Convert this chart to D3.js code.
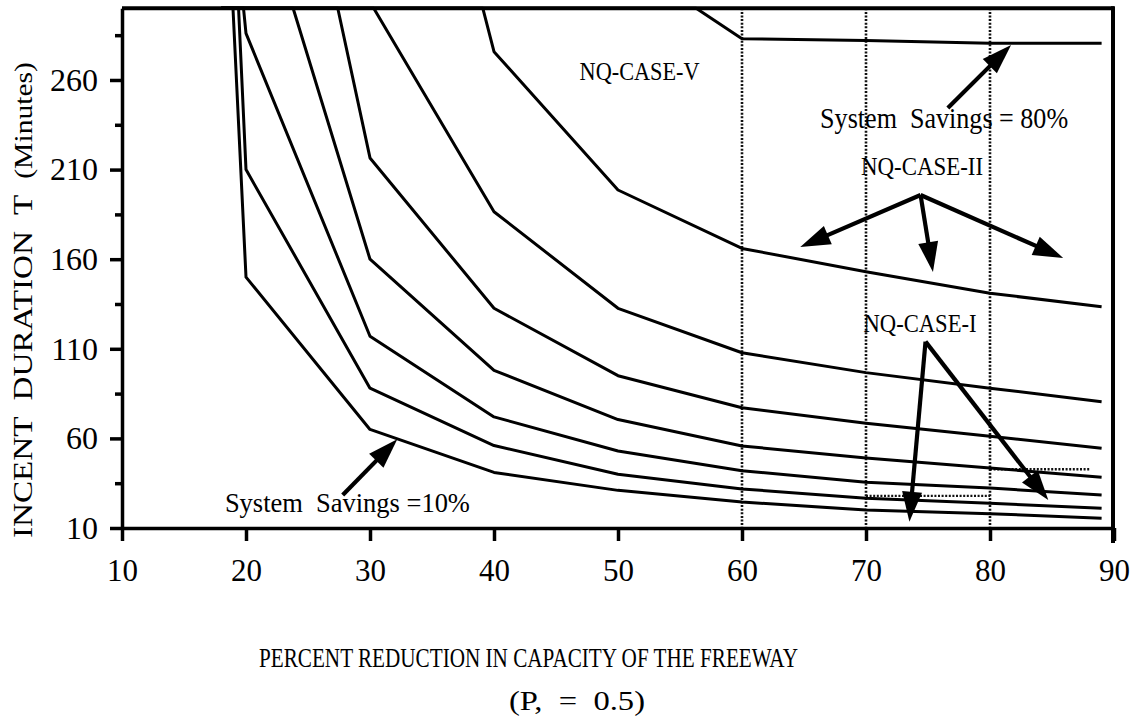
<!DOCTYPE html>
<html>
<head>
<meta charset="utf-8">
<script src="https://cdn.jsdelivr.net/npm/d3@7"></script>
<style>
  html, body { margin: 0; padding: 0; background: #fff; }
  svg { display: block; }
  text { font-family: "Liberation Serif", "Times New Roman", serif; fill: #000; white-space: pre; }
</style>
</head>
<body>
<svg id="chart" width="1133" height="716"></svg>
<script>
// ---------------- data ----------------
const xTicks = [10, 20, 30, 40, 50, 60, 70, 80, 90];
const yTicks = [10, 60, 110, 160, 210, 260];
const yMinorTicks = [35, 85, 135, 185, 235, 285];
const refLines = [60, 70, 80];

// System savings curves: [percent reduction, incident duration (min)]
const seriesNames = ["10%", "20%", "30%", "40%", "50%", "60%", "70%", "80%"];
const save10 = [[18, 300], [18.95, 300], [20, 150], [30, 65], [40, 41], [50, 31], [60, 24.5], [70, 20], [80, 18], [89, 15.4]];
const save20 = [[18, 300], [19.4, 300], [20, 210], [30, 88], [40, 56], [50, 40], [60, 31.8], [70, 26.6], [80, 23.8], [89, 21]];
const save30 = [[18, 300], [19.8, 300], [20, 286], [30, 117], [40, 72], [50, 53], [60, 42], [70, 35.5], [80, 32.3], [89, 28.4]];
const save40 = [[18, 300], [23.8, 300], [30, 160], [40, 98], [50, 70.5], [60, 55.8], [70, 49], [80, 43.5], [89, 38.3]];
const save50 = [[18, 300], [27.4, 300], [30, 216.5], [40, 132.6], [50, 95], [60, 77.1], [70, 68.4], [80, 61.2], [89, 54.5]];
const save60 = [[18, 300], [30.3, 300], [40, 186.5], [50, 132.6], [60, 107.8], [70, 96.7], [80, 88], [89, 80.5]];
const save70 = [[18, 300], [39.1, 300], [40, 275.8], [50, 198.6], [60, 166], [70, 153], [80, 141], [89, 133.5]];
const save80 = [[18, 300], [56.3, 300], [60, 283], [70, 282], [80, 280.5], [89, 280.5]];
const allSeries = [save10, save20, save30, save40, save50, save60, save70, save80];

// dotted horizontal marks: [x0, x1, y]
const dottedMarks = [[80, 88, 42.8], [70, 80, 27.9]];

// annotation labels: [text, x, y]
const labels = [
  ["System  Savings =10%", 18.3, 19.0],
  ["System  Savings = 80%", 66.3, 233.2],
  ["NQ-CASE-II", 69.6, 207],
  ["NQ-CASE-I", 69.8, 119.5],
  ["NQ-CASE-V", 46.9, 260]
];
// arrows: [x0, y0, x1(tip), y1(tip)]
const arrows = [
  [27.8, 28.4, 32.2, 59.5],
  [76.6, 244.4, 81.7, 279.5],
  [74.4, 195.8, 64.7, 166.8],
  [74.4, 195.8, 75.4, 152.9],
  [74.4, 195.8, 85.9, 160.7],
  [74.8, 114, 73.5, 13.5],
  [74.8, 114, 84.7, 25.6]
];

const xTitle = "PERCENT REDUCTION IN CAPACITY OF THE FREEWAY";
const xSubTitle = "(P,  =  0.5)";
const yTitleMain = "INCENT  DURATION  T  ";
const yTitleUnit = "(Minutes)";

// ---------------- drawing ----------------
const FONT = '"Liberation Serif", "Times New Roman", serif';
const svg = d3.select("#chart");
const x = d3.scaleLinear().domain([10, 90]).range([122, 1114]);
const y = d3.scaleLinear().domain([10, 300]).range([528, 8.3]);

// reference dotted verticals
svg.append("g").selectAll("line").data(refLines).join("line")
  .attr("x1", d => x(d)).attr("x2", d => x(d))
  .attr("y1", y(300)).attr("y2", y(10))
  .attr("stroke", "#111").attr("stroke-width", 2.6)
  .attr("stroke-dasharray", "2,1.6");

svg.append("g").selectAll("line").data(dottedMarks).join("line")
  .attr("x1", d => x(d[0])).attr("x2", d => x(d[1]))
  .attr("y1", d => y(d[2])).attr("y2", d => y(d[2]))
  .attr("stroke", "#111").attr("stroke-width", 2.4)
  .attr("stroke-dasharray", "2,1.6");

// curves
const line = d3.line().x(d => x(d[0])).y(d => y(d[1]));
svg.append("g").selectAll("path").data(allSeries).join("path")
  .attr("d", line)
  .attr("fill", "none").attr("stroke", "#000")
  .attr("stroke-width", 3).attr("stroke-linejoin", "round");

// frame (top + right)
svg.append("line").attr("x1", x(10)).attr("x2", x(90))
  .attr("y1", y(300)).attr("y2", y(300))
  .attr("stroke", "#000").attr("stroke-width", 4);
svg.append("line").attr("x1", x(90) - 1).attr("x2", x(90) - 1)
  .attr("y1", y(300) - 2).attr("y2", y(10) + 15)
  .attr("stroke", "#000").attr("stroke-width", 4);

// axes
const xAxis = d3.axisBottom(x).tickValues(xTicks).tickSize(13).tickSizeOuter(0).tickPadding(18);
const gx = svg.append("g").attr("transform", `translate(0,${y(10)})`).call(xAxis);
gx.attr("font-family", FONT);
gx.select(".domain").attr("stroke-width", 3.5);
gx.selectAll(".tick line").attr("stroke-width", 3.5);
gx.selectAll(".tick text").attr("font-size", 31).attr("font-family", FONT);

const yAxis = d3.axisLeft(y).tickValues(yTicks).tickSize(12).tickSizeOuter(0).tickPadding(12);
const gy = svg.append("g").attr("transform", `translate(${x(10)},0)`).call(yAxis);
gy.attr("font-family", FONT);
gy.select(".domain").attr("stroke-width", 3.5);
gy.selectAll(".tick line").attr("stroke-width", 3.5);
gy.selectAll(".tick text").attr("font-size", 32).attr("font-family", FONT);

const yMinor = d3.axisLeft(y).tickValues(yMinorTicks).tickSize(7).tickSizeOuter(0).tickFormat("");
const gym = svg.append("g").attr("transform", `translate(${x(10)},0)`).call(yMinor);
gym.select(".domain").remove();
gym.selectAll(".tick line").attr("stroke-width", 3.5);
svg.selectAll(".domain").attr("stroke", "#000");

// axis titles
svg.append("text").attr("x", 259).attr("y", 667)
  .attr("font-size", 28).attr("textLength", 539).attr("lengthAdjust", "spacingAndGlyphs")
  .text(xTitle);
svg.append("text").attr("x", 509).attr("y", 710)
  .attr("font-size", 28).attr("textLength", 136).attr("lengthAdjust", "spacingAndGlyphs")
  .text(xSubTitle);

const yt = svg.append("text").attr("transform", "translate(32,538) rotate(-90)")
  .attr("textLength", 476).attr("lengthAdjust", "spacingAndGlyphs");
yt.append("tspan").attr("font-size", 28).text(yTitleMain);
yt.append("tspan").attr("font-size", 25).text(yTitleUnit);

// annotation labels
const labelWidths = { "System  Savings =10%": 245, "System  Savings = 80%": 248, "NQ-CASE-II": 122, "NQ-CASE-I": 113, "NQ-CASE-V": 120 };
const labelSizes = { "System  Savings =10%": 28, "System  Savings = 80%": 29, "NQ-CASE-II": 25, "NQ-CASE-I": 25, "NQ-CASE-V": 26 };
svg.append("g").selectAll("text").data(labels).join("text")
  .attr("x", d => x(d[1])).attr("y", d => y(d[2]))
  .attr("font-size", d => labelSizes[d[0]])
  .attr("textLength", d => labelWidths[d[0]]).attr("lengthAdjust", "spacingAndGlyphs")
  .text(d => d[0]);

// arrows
const headLen = 30, headHalf = 10;
const ga = svg.append("g");
arrows.forEach(a => {
  const x0 = x(a[0]), y0 = y(a[1]), x1 = x(a[2]), y1 = y(a[3]);
  const dx = x1 - x0, dy = y1 - y0, L = Math.hypot(dx, dy);
  const ux = dx / L, uy = dy / L;
  const bx = x1 - ux * headLen, by = y1 - uy * headLen;
  ga.append("line").attr("x1", x0).attr("y1", y0)
    .attr("x2", bx + ux * 4).attr("y2", by + uy * 4)
    .attr("stroke", "#000").attr("stroke-width", 4.2);
  ga.append("path")
    .attr("d", `M${x1},${y1}L${bx - uy * headHalf},${by + ux * headHalf}L${bx + uy * headHalf},${by - ux * headHalf}Z`)
    .attr("fill", "#000");
});
</script>
</body>
</html>
